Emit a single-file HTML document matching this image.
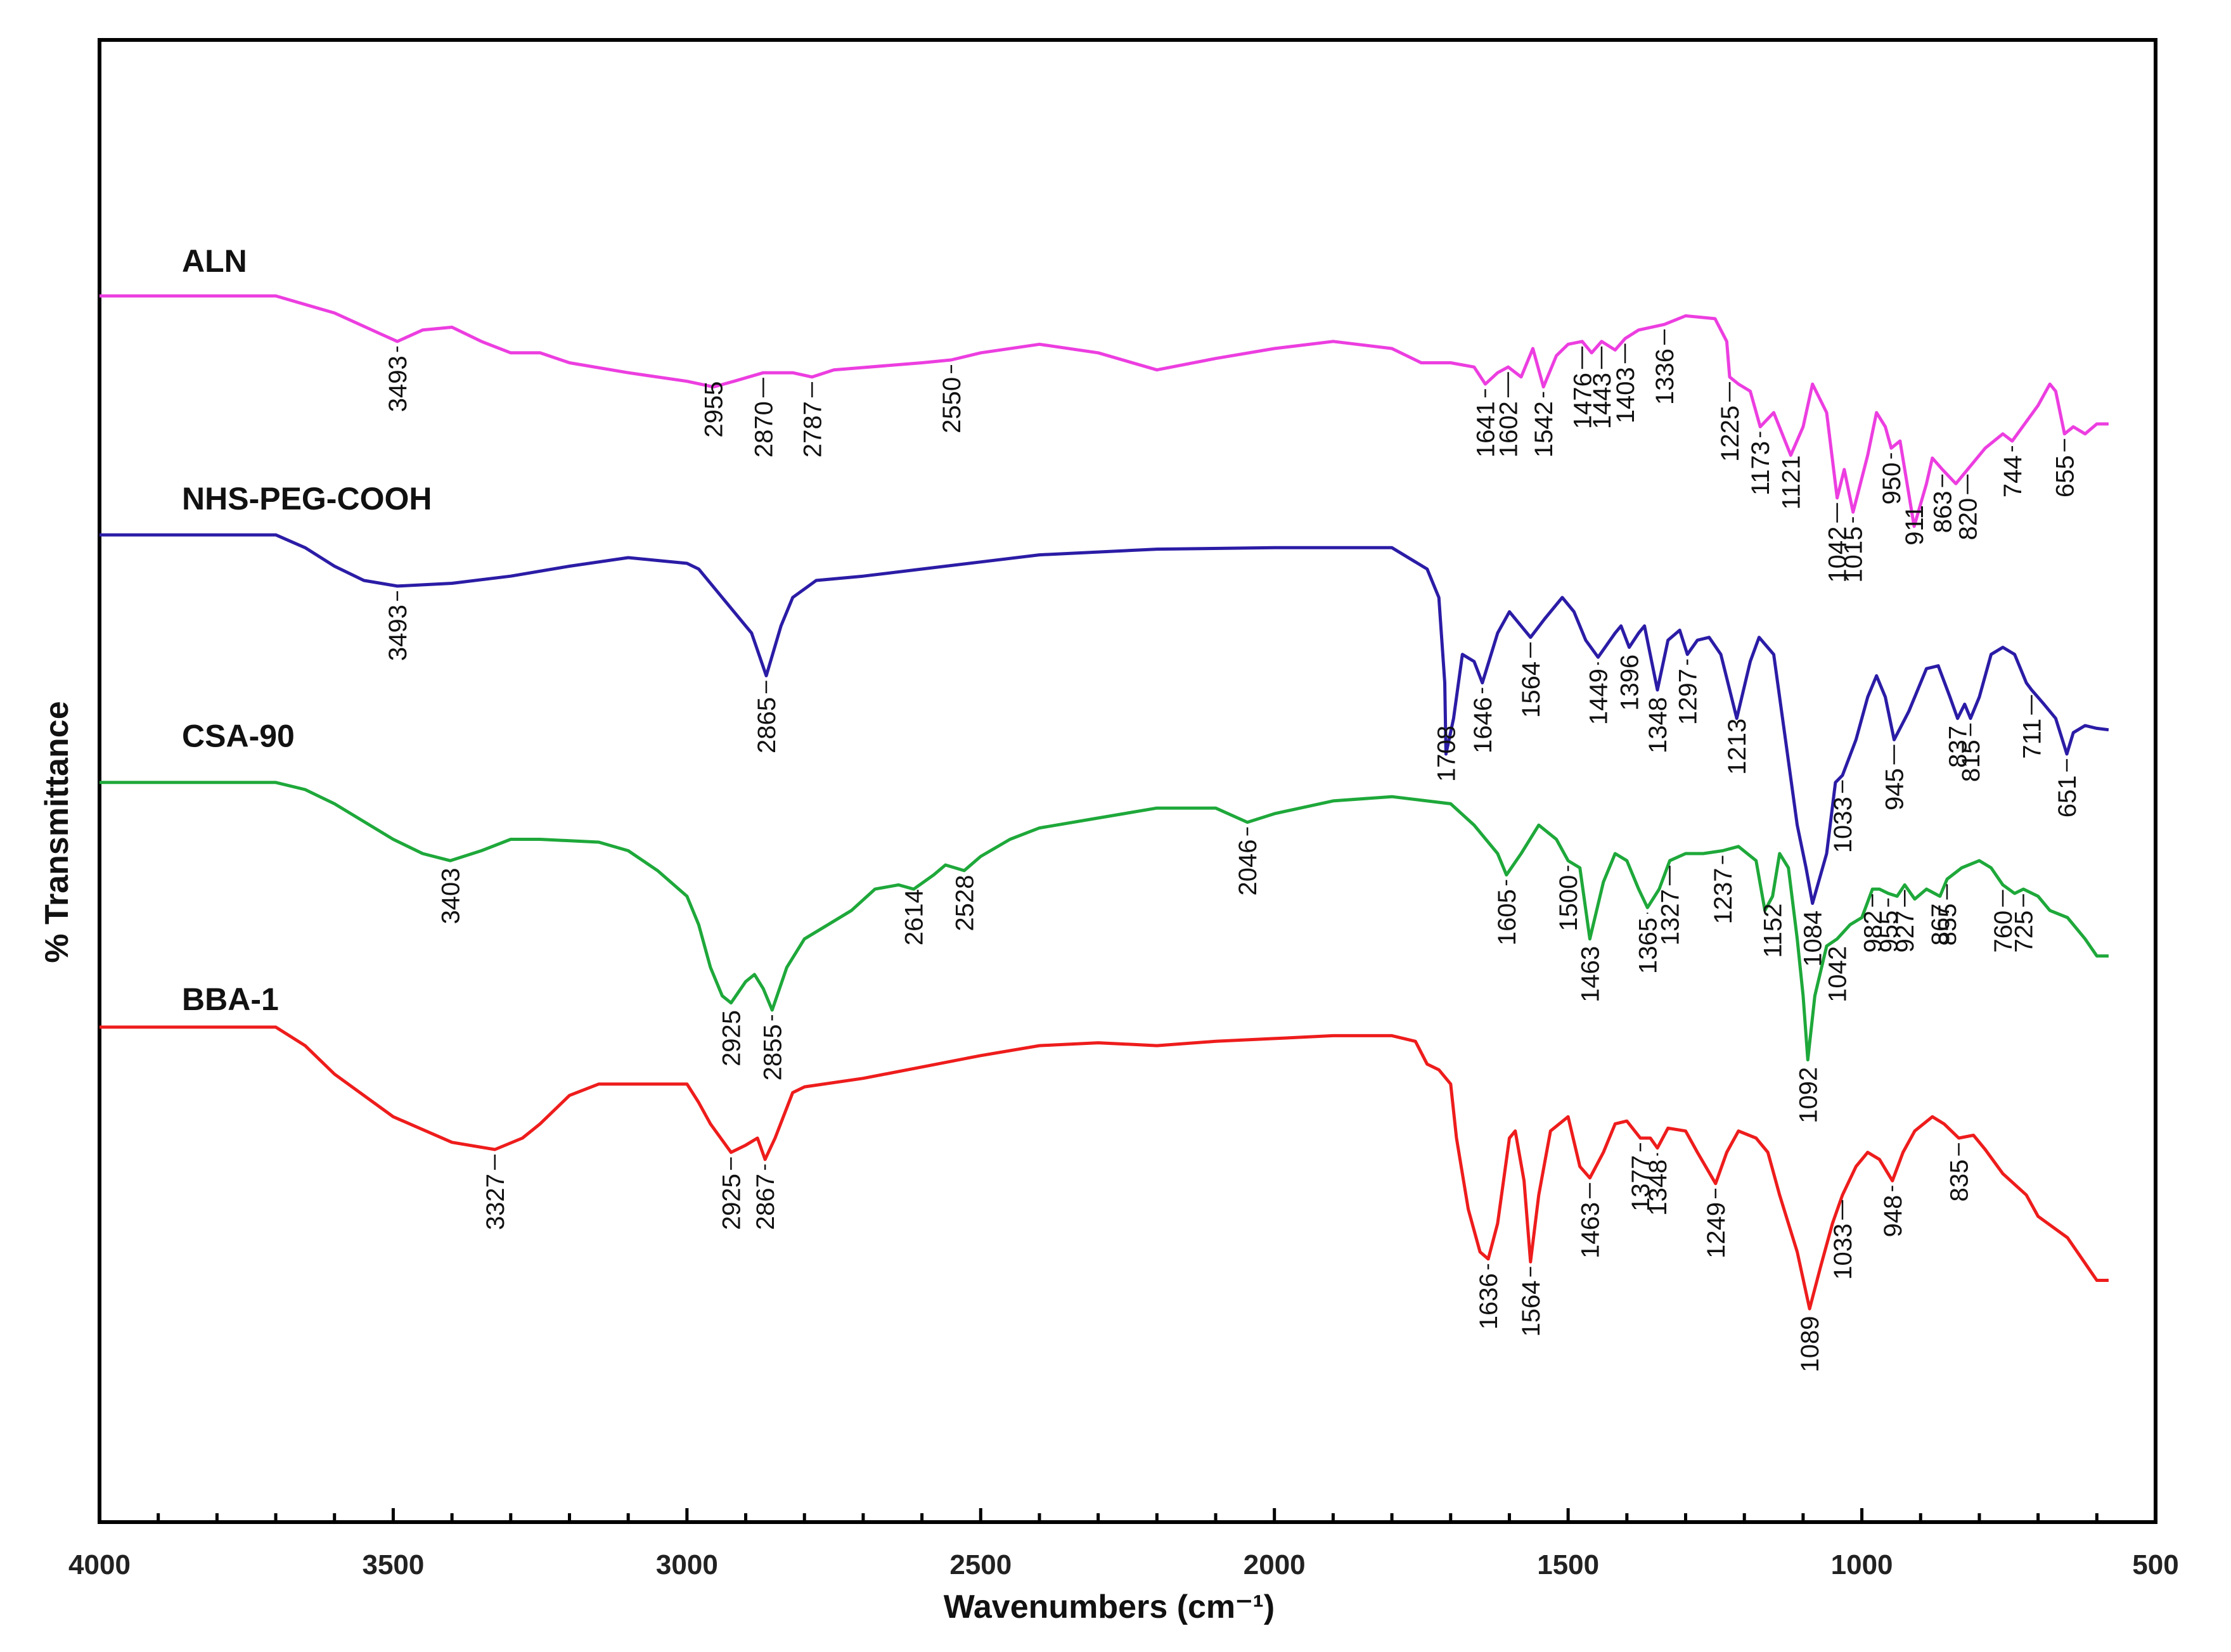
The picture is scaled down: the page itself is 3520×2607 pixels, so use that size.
<!DOCTYPE html>
<html><head><meta charset="utf-8"><style>
html,body{margin:0;padding:0;background:#fff;}
svg{display:block;}
text{font-family:"Liberation Sans",Arial,sans-serif;}
.narrow{font-family:"Liberation Sans Narrow","Liberation Sans",Arial,sans-serif;}
</style></head><body>
<svg id="chart" width="3520" height="2607" viewBox="0 0 3520 2607" xmlns="http://www.w3.org/2000/svg">
<rect width="3520" height="2607" fill="#fff"/>
<g id="plot"></g>
</svg>
<script>
const S = 2.245;
const xTicks = [4000,3500,3000,2500,2000,1500,1000,500];
const seriesNames = ["ALN","NHS-PEG-COOH","CSA-90","BBA-1"];
const seriesColors = ["#ec3ee0","#2b1ca6","#1ea83a","#ee1c1c"];
const alnWn = [4000,3700,3600,3520,3493,3450,3400,3350,3300,3250,3200,3100,3000,2955,2920,2870,2820,2787,2750,2600,2550,2500,2400,2300,2200,2100,2000,1900,1800,1750,1700,1660,1641,1620,1602,1580,1560,1542,1520,1500,1476,1460,1443,1420,1403,1380,1336,1300,1250,1230,1225,1210,1190,1173,1150,1121,1100,1084,1060,1042,1030,1015,990,975,960,950,935,911,890,880,863,840,820,790,760,744,700,680,670,655,640,620,600,580];
const alnY = [208,208,220,235,240,232,230,240,248,248,255,262,268,272,268,262,262,265,260,255,253,248,242,248,260,252,245,240,245,255,255,258,270,262,258,265,245,272,250,242,240,248,240,246,238,232,228,222,224,240,265,270,275,300,290,320,300,270,290,350,330,360,320,290,300,315,310,370,340,322,330,340,330,315,305,310,285,270,275,305,300,305,298,298];
const pegWn = [4000,3700,3650,3600,3550,3493,3400,3300,3200,3100,3050,3000,2980,2950,2920,2890,2865,2840,2820,2780,2700,2600,2500,2400,2300,2200,2000,1800,1760,1740,1720,1710,1708,1695,1680,1660,1646,1620,1600,1580,1564,1540,1510,1490,1470,1449,1420,1410,1396,1380,1370,1348,1330,1310,1297,1280,1260,1240,1213,1190,1175,1150,1130,1110,1095,1084,1060,1045,1033,1010,990,975,960,945,920,890,870,850,837,825,815,800,780,760,740,720,711,690,670,651,640,620,600,580];
const pegY = [376,376,385,398,408,412,410,405,398,392,394,396,400,415,430,445,475,440,420,408,405,400,395,390,388,386,385,385,395,400,420,480,530,505,460,465,480,445,430,440,448,435,420,430,450,462,445,440,455,445,440,485,450,443,460,450,448,460,505,465,448,460,520,580,610,635,600,550,545,520,490,475,490,520,500,470,468,490,505,495,505,490,460,455,460,480,485,495,505,530,515,510,512,513];
const csaWn = [4000,3700,3650,3600,3500,3450,3403,3350,3300,3250,3150,3100,3050,3000,2980,2960,2940,2925,2900,2885,2870,2855,2830,2800,2760,2720,2680,2640,2614,2580,2560,2528,2500,2450,2400,2300,2200,2100,2046,2000,1900,1800,1700,1660,1620,1605,1580,1550,1520,1500,1480,1463,1440,1420,1400,1380,1365,1345,1327,1300,1270,1237,1210,1180,1165,1152,1140,1125,1110,1100,1092,1080,1060,1042,1020,1000,982,970,955,940,927,910,890,867,855,830,800,780,760,740,725,700,680,650,620,600,580];
const csaY = [550,550,555,565,590,600,605,598,590,590,592,598,612,630,650,680,700,705,690,685,695,710,680,660,650,640,625,622,625,615,608,612,602,590,582,575,568,568,578,572,563,560,565,580,600,615,600,580,590,605,610,660,620,600,605,625,638,625,605,600,600,598,595,605,640,630,600,610,660,700,745,700,665,660,650,645,625,625,628,630,622,632,625,630,618,610,605,610,622,628,625,630,640,645,660,672,672];
const bbaWn = [4000,3700,3650,3600,3500,3400,3327,3280,3250,3200,3150,3000,2980,2960,2925,2900,2880,2867,2850,2820,2800,2700,2600,2500,2400,2300,2200,2100,2000,1900,1800,1760,1740,1720,1700,1690,1670,1650,1636,1620,1600,1590,1575,1564,1550,1530,1500,1480,1463,1440,1420,1400,1377,1360,1348,1330,1300,1280,1249,1230,1210,1180,1160,1140,1110,1089,1070,1050,1033,1010,990,970,948,930,910,880,860,835,810,790,760,720,700,650,620,600,580];
const bbaY = [722,722,735,755,785,803,808,800,790,770,762,762,775,790,810,805,800,815,800,768,764,758,750,742,735,733,735,732,730,728,728,732,748,752,762,800,850,880,885,860,800,795,830,887,840,795,785,820,828,810,790,788,800,800,807,793,795,810,832,810,795,800,810,840,880,920,890,860,840,820,810,815,830,810,795,785,790,800,798,808,825,840,855,870,888,900,900];
const alnPeaks = [3493,2955,2870,2787,2550,1641,1602,1542,1476,1443,1403,1336,1225,1173,1121,1042,1015,950,911,863,820,744,655];
const alnPeakTop = [250,268,282,282,265,282,282,282,262,262,258,245,285,310,320,370,370,325,355,345,350,320,320];
const pegPeaks = [3493,2865,1708,1646,1564,1449,1396,1348,1297,1213,1084,1033,945,837,815,711,651];
const pegPeakTop = [425,490,510,490,465,470,460,490,470,505,640,560,540,510,520,505,545];
const csaPeaks = [3403,2925,2855,2614,2528,2046,1605,1500,1463,1365,1327,1237,1152,1092,1042,982,955,927,867,855,760,725];
const csaPeakTop = [610,710,720,625,615,590,625,615,665,645,625,610,635,750,665,640,640,640,635,635,640,640];
const bbaPeaks = [3327,2925,2867,1636,1564,1463,1377,1348,1249,1089,1033,948,835];
const bbaPeakTop = [825,825,825,895,900,845,812,815,845,925,860,840,815];

const L=157, R=3401, T=63, B=2402;
const xs = w => L + (4000 - w) * (R - L) / 3500;
const ys = v => v * S;
const NS="http://www.w3.org/2000/svg";
const g=document.getElementById('plot');
function mk(tag, attrs, parent){const e=document.createElementNS(NS,tag);for(const k in attrs)e.setAttribute(k,attrs[k]);(parent||g).appendChild(e);return e;}
function interp(wn, ys_, w){for(let i=0;i<wn.length-1;i++){if(w<=wn[i]&&w>=wn[i+1]){const t=(wn[i]-w)/(wn[i]-wn[i+1]);return ys_[i]+t*(ys_[i+1]-ys_[i]);}}return ys_[ys_.length-1];}

const frame=mk('rect',{x:L,y:T,width:R-L,height:B-T,fill:'none',stroke:'#000','stroke-width':6});


for(let w=4000; w>=500; w-=100){
  const major = w%500===0;
  const t=mk('line',{x1:xs(w),x2:xs(w),y1:B,y2:B-(major?22:14),stroke:'#000','stroke-width':5});
  
  
}
xTicks.forEach(w=>{
  const t=mk('text',{x:xs(w),y:B+82,'font-size':44,'font-weight':'bold','text-anchor':'middle',fill:'#222',class:'narrow'});
  t.textContent=w;
  
  
});
const xt=mk('text',{x:1750,y:2553,'font-size':52,'font-weight':'bold','text-anchor':'middle',fill:'#111'});
xt.textContent='Wavenumbers (cm\u207B\u00B9)';


const yt=mk('text',{x:0,y:0,'font-size':52,'font-weight':'bold','text-anchor':'middle',fill:'#111',transform:'translate(107,1313) rotate(-90)'});
yt.textContent='% Transmittance';



const allWn=[alnWn,pegWn,csaWn,bbaWn], allY=[alnY,pegY,csaY,bbaY];
const allPk=[alnPeaks,pegPeaks,csaPeaks,bbaPeaks], allPt=[alnPeakTop,pegPeakTop,csaPeakTop,bbaPeakTop];
const nameY=[183,350,517,702], nameSlug=['aln','nhs-peg-cooh','csa-90','bba-1'];
for(let s=0;s<4;s++){
  const d=allWn[s].map((w,i)=>(i?'L':'M')+xs(w).toFixed(1)+' '+ys(allY[s][i]).toFixed(1)).join(' ');
  const p=mk('path',{d:d,fill:'none',stroke:seriesColors[s],'stroke-width':5,'stroke-linejoin':'round'});
  
  
  const n=mk('text',{x:287,y:ys(nameY[s])+18,'font-size':50,'font-weight':'bold',fill:'#111'});
  n.textContent=seriesNames[s];
  
  
  allPk[s].forEach((w,i)=>{
    const x=xs(w), cy=ys(interp(allWn[s],allY[s],w))+8, top=ys(allPt[s][i]);
    const ln=mk('line',{x1:x,x2:x,y1:cy,y2:Math.max(cy,top-6),stroke:'#111','stroke-width':2.5});
    
    
    const tx=mk('text',{x:0,y:0,'font-size':40,'text-anchor':'end',fill:'#111',class:'narrow',transform:`translate(${x+14},${top}) rotate(-90)`});
    tx.textContent=w;
    
    
  });
}
</script>
</body></html>
